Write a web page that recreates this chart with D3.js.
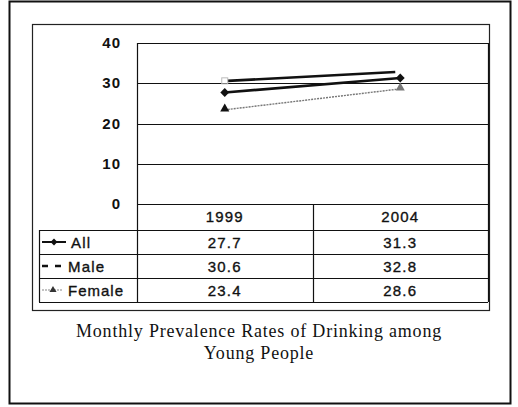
<!DOCTYPE html>
<html>
<head>
<meta charset="utf-8">
<script src="https://d3js.org/d3.v7.min.js"></script>
<style>
  body { margin: 0; background: #fff; }
  svg { display: block; }
</style>
</head>
<body>
<div id="chart"></div>
<script>
// Data
const years = ["1999", "2004"];
const seriesNames = ["All", "Male", "Female"];
const allValues = [27.7, 31.3];
const maleValues = [30.6, 32.8];
const femaleValues = [23.4, 28.6];
const yTicks = [0, 10, 20, 30, 40];
const caption = ["Monthly Prevalence Rates of Drinking among", "Young People"];

const W = 518, H = 407;
const plot = { left: 137, right: 488, top: 43, bottom: 204 };
const table = { left: 39, headerBottom: 230, bottom: 302 };

const svg = d3.select("#chart").append("svg")
    .attr("width", W)
    .attr("height", H);

// Outer frame and inner chart box
svg.append("rect")
    .attr("x", 9.5).attr("y", 1.5)
    .attr("width", 501).attr("height", 402)
    .attr("fill", "none").attr("stroke", "#111").attr("stroke-width", 2);

svg.append("rect")
    .attr("x", 32.5).attr("y", 24.5)
    .attr("width", 457).attr("height", 286)
    .attr("fill", "none").attr("stroke", "#222").attr("stroke-width", 1.2);

// Scales
const x = d3.scaleBand().domain(years).range([plot.left, plot.right]);
const y = d3.scaleLinear().domain([0, 40]).range([plot.bottom, plot.top]);
const row = d3.scaleBand().domain(seriesNames).range([table.headerBottom, table.bottom]);

// Gridlines
svg.selectAll(".grid")
    .data(yTicks)
    .enter().append("line")
    .attr("x1", plot.left).attr("x2", plot.right)
    .attr("y1", d => Math.round(y(d)) + 0.5)
    .attr("y2", d => Math.round(y(d)) + 0.5)
    .attr("stroke", "#111").attr("stroke-width", 1.2);

// Y tick labels
svg.selectAll(".ytick")
    .data(yTicks)
    .enter().append("text")
    .attr("x", 121)
    .attr("y", d => y(d) + 5)
    .attr("text-anchor", "end")
    .attr("font-family", "Liberation Sans, Arial, sans-serif")
    .attr("font-size", 15)
    .attr("font-weight", "bold")
    .attr("letter-spacing", 1)
    .attr("fill", "#111")
    .text(d => d);

// Table lines
const vlines = [
    { x: table.left, y1: table.headerBottom, y2: table.bottom },
    { x: plot.left, y1: plot.top, y2: table.bottom },
    { x: x(years[1]), y1: plot.bottom, y2: table.bottom },
    { x: plot.right, y1: plot.top, y2: table.bottom }
];
svg.selectAll(".vline")
    .data(vlines)
    .enter().append("line")
    .attr("x1", d => Math.round(d.x) + 0.5).attr("x2", d => Math.round(d.x) + 0.5)
    .attr("y1", d => d.y1).attr("y2", d => d.y2)
    .attr("stroke", "#111").attr("stroke-width", 1.2);

const hlines = seriesNames.map(s => row(s)).concat([table.bottom]);
svg.selectAll(".hline")
    .data(hlines)
    .enter().append("line")
    .attr("x1", table.left).attr("x2", plot.right)
    .attr("y1", d => Math.round(d) + 0.5).attr("y2", d => Math.round(d) + 0.5)
    .attr("stroke", "#111").attr("stroke-width", 1.2);

const tableFont = sel => sel
    .attr("font-family", "Liberation Sans, Arial, sans-serif")
    .attr("font-size", 15)
    .attr("letter-spacing", 1.2)
    .attr("fill", "#111")
    .attr("stroke", "#111")
    .attr("stroke-width", 0.35);

// Header years
svg.selectAll(".year")
    .data(years)
    .enter().append("text")
    .attr("x", d => x(d) + x.bandwidth() / 2)
    .attr("y", (plot.bottom + table.headerBottom) / 2 + 5)
    .attr("text-anchor", "middle")
    .call(tableFont)
    .text(d => d);

// Table values
const seriesValues = { All: allValues, Male: maleValues, Female: femaleValues };
seriesNames.forEach(name => {
    svg.selectAll(".val-" + name)
        .data(seriesValues[name])
        .enter().append("text")
        .attr("x", (d, i) => x(years[i]) + x.bandwidth() / 2)
        .attr("y", row(name) + row.bandwidth() / 2 + 6)
        .attr("text-anchor", "middle")
        .call(tableFont)
        .text(d => d.toFixed(1));
});

// Marker shapes
const diamond = d3.symbol().type(d3.symbolDiamond2).size(50);
const triangle = d3.symbol().type(d3.symbolTriangle).size(36);

const line = d3.line()
    .x((d, i) => x(years[i]) + x.bandwidth() / 2)
    .y(d => y(d));

// Male line (thick, dark) with faint square at start
svg.append("path")
    .attr("d", d3.line()
        .x((d, i) => x(years[i]) + x.bandwidth() / 2 + (i === 0 ? 3 : -5))
        .y(d => y(d))(maleValues))
    .attr("fill", "none").attr("stroke", "#111").attr("stroke-width", 2.6);
svg.append("rect")
    .attr("x", x(years[0]) + x.bandwidth() / 2 - 3)
    .attr("y", y(maleValues[0]) - 3)
    .attr("width", 6).attr("height", 6)
    .attr("fill", "none").attr("stroke", "#bbb").attr("stroke-width", 1);

// All line
svg.append("path")
    .attr("d", line(allValues))
    .attr("fill", "none").attr("stroke", "#111").attr("stroke-width", 2.6);
svg.selectAll(".all-pt")
    .data(allValues)
    .enter().append("path")
    .attr("d", diamond)
    .attr("transform", (d, i) => `translate(${x(years[i]) + x.bandwidth() / 2},${y(d)})`)
    .attr("fill", "#111");

// Female line
svg.append("path")
    .attr("d", line(femaleValues))
    .attr("fill", "none").attr("stroke", "#777")
    .attr("stroke-width", 1.4).attr("stroke-dasharray", "2,1");
svg.selectAll(".fem-pt")
    .data(femaleValues)
    .enter().append("path")
    .attr("d", triangle)
    .attr("transform", (d, i) => `translate(${x(years[i]) + x.bandwidth() / 2},${y(d) - 1})`)
    .attr("fill", (d, i) => i === 0 ? "#111" : "#777");

// Legend keys in table
const keyX1 = 42, keyX2 = 66, keyMid = 54;
const keyY = name => row(name) + row.bandwidth() / 2;

svg.append("line")
    .attr("x1", keyX1).attr("x2", keyX2)
    .attr("y1", keyY("All")).attr("y2", keyY("All"))
    .attr("stroke", "#111").attr("stroke-width", 2);
svg.append("path")
    .attr("d", d3.symbol().type(d3.symbolDiamond2).size(30))
    .attr("transform", `translate(${keyMid},${keyY("All")})`)
    .attr("fill", "#111");

svg.append("line")
    .attr("x1", keyX1).attr("x2", keyX2 - 5)
    .attr("y1", keyY("Male")).attr("y2", keyY("Male"))
    .attr("stroke", "#111").attr("stroke-width", 2.4)
    .attr("stroke-dasharray", "6,7");

svg.append("line")
    .attr("x1", keyX1).attr("x2", keyX2 - 3)
    .attr("y1", keyY("Female")).attr("y2", keyY("Female"))
    .attr("stroke", "#888").attr("stroke-width", 1.2)
    .attr("stroke-dasharray", "2,1");
svg.append("path")
    .attr("d", d3.symbol().type(d3.symbolTriangle).size(22))
    .attr("transform", `translate(${keyMid - 1},${keyY("Female")})`)
    .attr("fill", "#333");

// Legend labels
svg.selectAll(".series-label")
    .data(seriesNames)
    .enter().append("text")
    .attr("x", d => d === "All" ? 71 : 68)
    .attr("y", d => row(d) + row.bandwidth() / 2 + 6)
    .call(tableFont)
    .attr("letter-spacing", d => d === "Female" ? 1.0 : 1.2)
    .text(d => d);

// Caption
svg.selectAll(".caption")
    .data(caption)
    .enter().append("text")
    .attr("x", 259)
    .attr("y", (d, i) => 337 + i * 22)
    .attr("text-anchor", "middle")
    .attr("font-family", "Liberation Serif, Times New Roman, serif")
    .attr("font-size", 18)
    .attr("letter-spacing", 0.8)
    .attr("fill", "#111")
    .text(d => d);
</script>
</body>
</html>
